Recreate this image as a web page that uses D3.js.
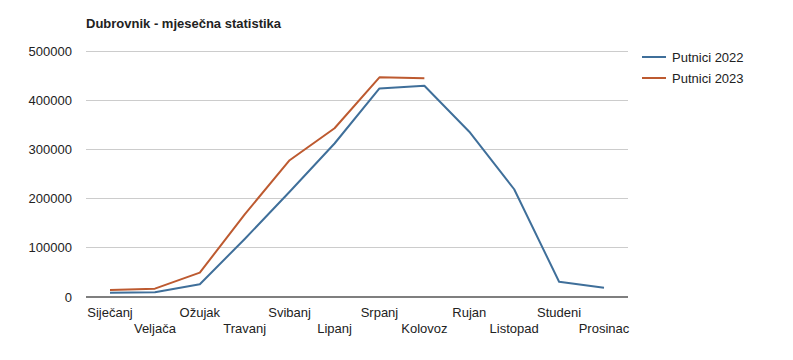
<!DOCTYPE html>
<html>
<head>
<meta charset="utf-8">
<script src="https://cdn.jsdelivr.net/npm/d3@7"></script>
<style>
  html, body { margin: 0; padding: 0; background: #fff; }
  svg { display: block; font-family: "Liberation Sans", Arial, sans-serif; }
</style>
</head>
<body>
<svg id="chart" width="793" height="360"></svg>
<script>
const title = "Dubrovnik - mjesečna statistika";
const months = ["Siječanj","Veljača","Ožujak","Travanj","Svibanj","Lipanj","Srpanj","Kolovoz","Rujan","Listopad","Studeni","Prosinac"];
const putnici2022 = [8700, 9500, 25800, 118000, 214000, 312000, 424000, 429500, 336000, 219000, 31000, 19000];
const putnici2023 = [14000, 17000, 49500, 168000, 278000, 343000, 446500, 444500, null, null, null, null];
const yTicks = [0, 100000, 200000, 300000, 400000, 500000];
const seriesNames = ["Putnici 2022", "Putnici 2023"];
const seriesColors = ["#3f6f9a", "#bd5a30"];

const svg = d3.select("#chart");
const plotLeft = 86, plotRight = 628, plotTop = 51, plotBottom = 297;

const x = d3.scalePoint().domain(months).range([110, 604]);
const y = d3.scaleLinear().domain([0, 500000]).range([plotBottom, plotTop]);

svg.append("text").attr("x", 86).attr("y", 28)
  .attr("font-size", 13).attr("font-weight", "bold").attr("fill", "#222")
  .text(title);

// gridlines
svg.append("g").selectAll("line").data(yTicks.filter(d => d > 0)).join("line")
  .attr("x1", plotLeft).attr("x2", plotRight)
  .attr("y1", d => y(d)).attr("y2", d => y(d))
  .attr("stroke", "#ccc").attr("stroke-width", 1).attr("shape-rendering", "crispEdges");

// y axis labels
const yAxis = d3.axisLeft(y).tickValues(yTicks).tickSize(0).tickPadding(0).tickFormat(d3.format("d"));
const gy = svg.append("g").attr("transform", `translate(${plotLeft - 14},0)`).call(yAxis);
gy.select(".domain").remove();
gy.selectAll("text").attr("font-size", 13).attr("fill", "#222").attr("font-family", "Liberation Sans, Arial, sans-serif");

// x axis baseline
svg.append("line").attr("x1", plotLeft).attr("x2", plotRight).attr("y1", y(0)).attr("y2", y(0))
  .attr("stroke", "#000").attr("stroke-width", 1.2);

// x labels alternating
svg.append("g").selectAll("text").data(months).join("text")
  .attr("x", d => x(d))
  .attr("y", (d, i) => i % 2 === 0 ? 317 : 333)
  .attr("text-anchor", "middle").attr("font-size", 13).attr("fill", "#222")
  .text(d => d);

const line = d3.line().defined(d => d[1] != null).x(d => x(d[0])).y(d => y(d[1]));
[putnici2022, putnici2023].forEach((vals, i) => {
  svg.append("path")
    .datum(months.map((m, j) => [m, vals[j]]))
    .attr("d", line).attr("fill", "none")
    .attr("stroke", seriesColors[i]).attr("stroke-width", 2)
    .attr("stroke-linejoin", "round");
});

// legend
const lg = svg.append("g");
seriesNames.forEach((n, i) => {
  const yy = 57 + i * 21;
  lg.append("line").attr("x1", 642).attr("x2", 666).attr("y1", yy).attr("y2", yy)
    .attr("stroke", seriesColors[i]).attr("stroke-width", 2);
  lg.append("text").attr("x", 672).attr("y", yy).attr("dy", "0.35em")
    .attr("font-size", 13).attr("fill", "#222").text(n);
});
</script>
</body>
</html>
